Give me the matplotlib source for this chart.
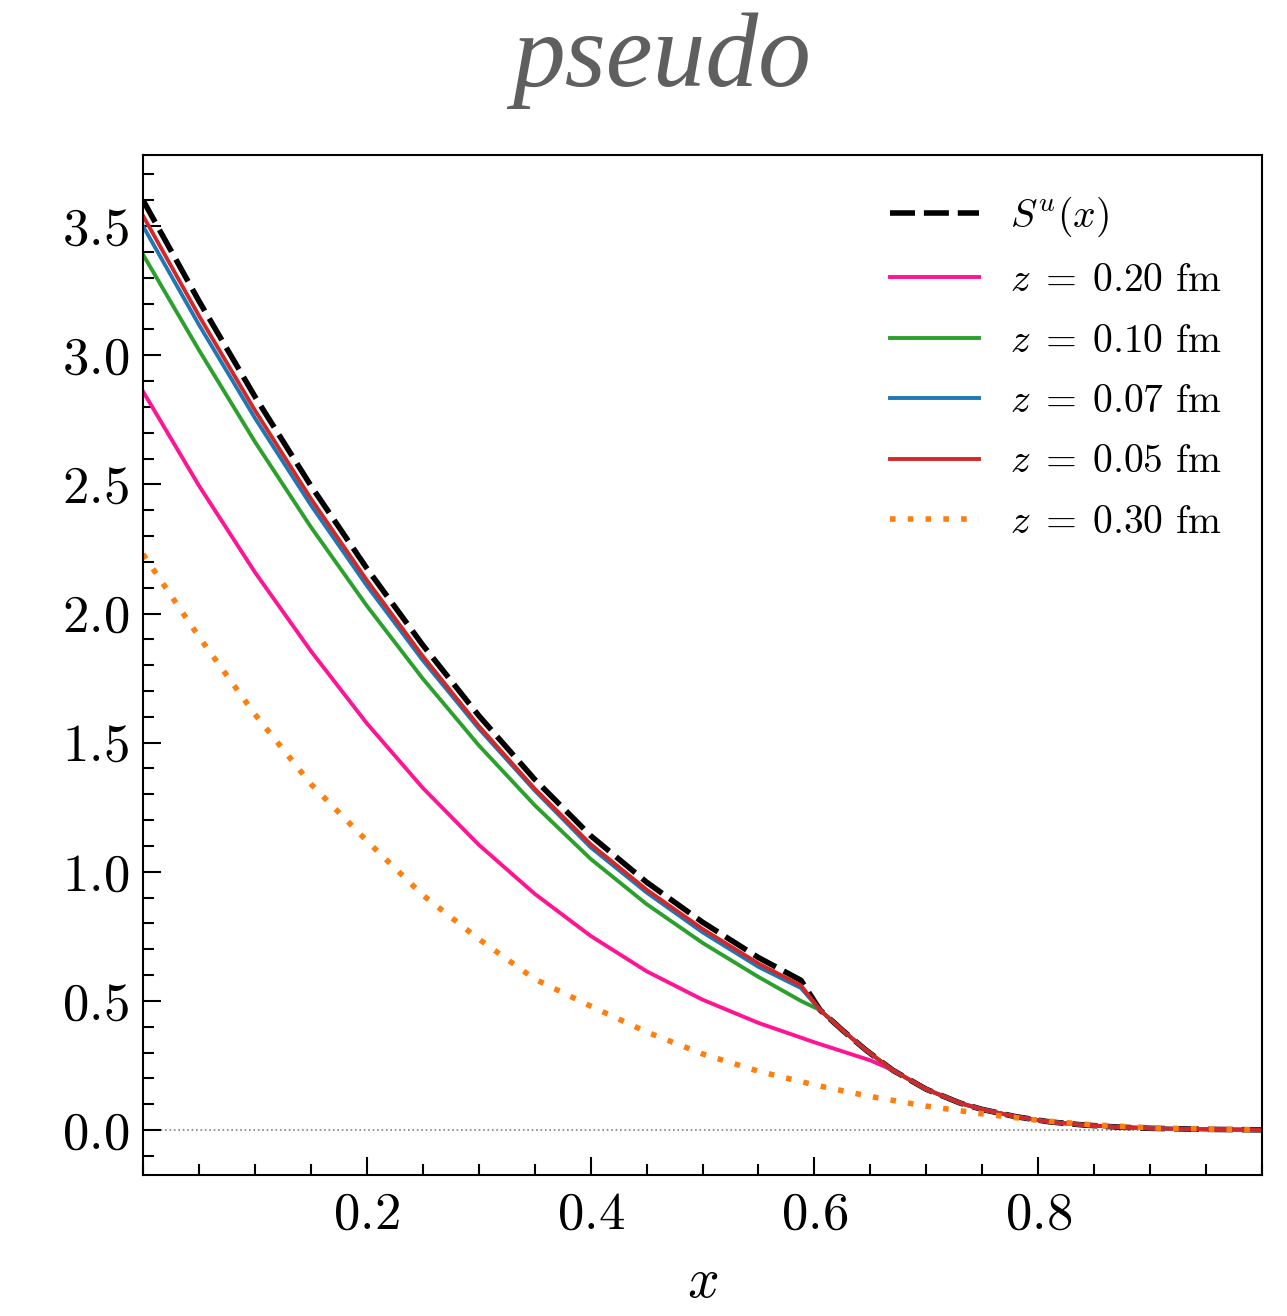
import numpy as np
import matplotlib
matplotlib.use("Agg")
import matplotlib.pyplot as plt
from matplotlib.ticker import MultipleLocator

plt.rcParams["mathtext.fontset"] = "cm"
plt.rcParams["font.family"] = "serif"
plt.rcParams["font.serif"] = ["cmr10", "DejaVu Serif"]
plt.rcParams["axes.formatter.use_mathtext"] = True

# x grid below the kink near x ~ 0.59
x_lo = [0.0, 0.05, 0.10, 0.15, 0.20, 0.25, 0.30, 0.35, 0.40, 0.45, 0.50, 0.55, 0.588]
s_u  = [3.60, 3.21, 2.84, 2.495, 2.175, 1.878, 1.605, 1.358, 1.14, 0.96, 0.805, 0.668, 0.58]
z005 = [3.54, 3.153, 2.787, 2.445, 2.129, 1.835, 1.565, 1.322, 1.107, 0.931, 0.779, 0.645, 0.56]
z007 = [3.50, 3.118, 2.757, 2.42, 2.108, 1.819, 1.555, 1.315, 1.095, 0.92, 0.766, 0.632, 0.55]
z010 = [3.39, 3.02, 2.665, 2.335, 2.03, 1.748, 1.49, 1.258, 1.05, 0.875, 0.725, 0.593, 0.50]

# z = 0.20 fm runs on its own up to x ~ 0.67
x_pink = [0.0, 0.05, 0.10, 0.15, 0.20, 0.25, 0.30, 0.35, 0.40, 0.45, 0.50, 0.55, 0.60, 0.65]
z020   = [2.86, 2.495, 2.16, 1.855, 1.575, 1.325, 1.105, 0.915, 0.752, 0.615, 0.505, 0.415, 0.34, 0.27]

# common large-x tail shared by S^u and the small-z curves
x_tail = [0.605, 0.625, 0.646, 0.67, 0.70, 0.73, 0.75, 0.78, 0.81, 0.84, 0.87, 0.90, 0.95, 1.0]
y_tail = [0.465, 0.387, 0.31, 0.232, 0.158, 0.105, 0.08, 0.052, 0.032, 0.02, 0.012, 0.007, 0.003, 0.001]

x_full = [0.0, 0.05, 0.10, 0.15, 0.20, 0.25, 0.30, 0.35, 0.40, 0.45, 0.50,
          0.55, 0.60, 0.65, 0.70, 0.75, 0.80, 0.85, 0.90, 0.95, 1.0]
z030   = [2.23, 1.91, 1.61, 1.34, 1.12, 0.91, 0.74, 0.585, 0.48, 0.38, 0.295,
          0.228, 0.175, 0.13, 0.093, 0.063, 0.038, 0.02, 0.009, 0.004, 0.001]

def with_tail(xs, ys, start=0):
    return list(xs) + x_tail[start:], list(ys) + y_tail[start:]

fig = plt.figure(figsize=(12.87, 13.16), dpi=100)
ax = fig.add_axes([0.1111, 0.1071, 0.8695, 0.7751])

ax.axhline(0, color="gray", lw=1.2, ls=":", zorder=0)

lw = 2.8
ax.plot(*with_tail(x_lo, s_u), color="k", lw=4.0, dashes=(4.5, 1.6),
        label=r"$S^u(x)$")
ax.plot(*with_tail(x_pink, z020, start=3), color="#ff1493", lw=lw,
        label=r"$z\;=\;0.20$ fm")
ax.plot(*with_tail(x_lo, z010), color="#2ca02c", lw=lw, label=r"$z\;=\;0.10$ fm")
ax.plot(*with_tail(x_lo, z007), color="#1f77b4", lw=lw, label=r"$z\;=\;0.07$ fm")
ax.plot(*with_tail(x_lo, z005), color="#d62728", lw=lw, label=r"$z\;=\;0.05$ fm")
ax.plot(x_full, z030, color="#ff7f0e", lw=4.0, dashes=(1, 2.2),
        label=r"$z\;=\;0.30$ fm")

ax.set_xlim(0, 1)
ax.set_ylim(-0.174, 3.775)
ax.set_xticks([0.2, 0.4, 0.6, 0.8])
ax.xaxis.set_minor_locator(MultipleLocator(0.05))
ax.yaxis.set_major_locator(MultipleLocator(0.5))
ax.yaxis.set_minor_locator(MultipleLocator(0.1))
ax.tick_params(which="both", direction="in", top=False, right=False,
               labelsize=38, width=1.5)
ax.tick_params(which="major", length=13)
ax.tick_params(which="minor", length=8)
ax.tick_params(axis="x", pad=12)
ax.tick_params(axis="y", pad=10)
for sp in ax.spines.values():
    sp.set_linewidth(1.5)

ax.set_xlabel(r"$x$", fontsize=40, labelpad=14)

ax.legend(loc="upper right", frameon=False, fontsize=28.5, handlelength=2.25,
          handletextpad=0.8, labelspacing=0.62, borderaxespad=0.6)

fig.text(0.514, 0.935, "pseudo", fontsize=76, family="Liberation Serif",
         style="italic", color="#5f5f5f", ha="center", va="baseline")

fig.savefig("out.png", dpi=100)
